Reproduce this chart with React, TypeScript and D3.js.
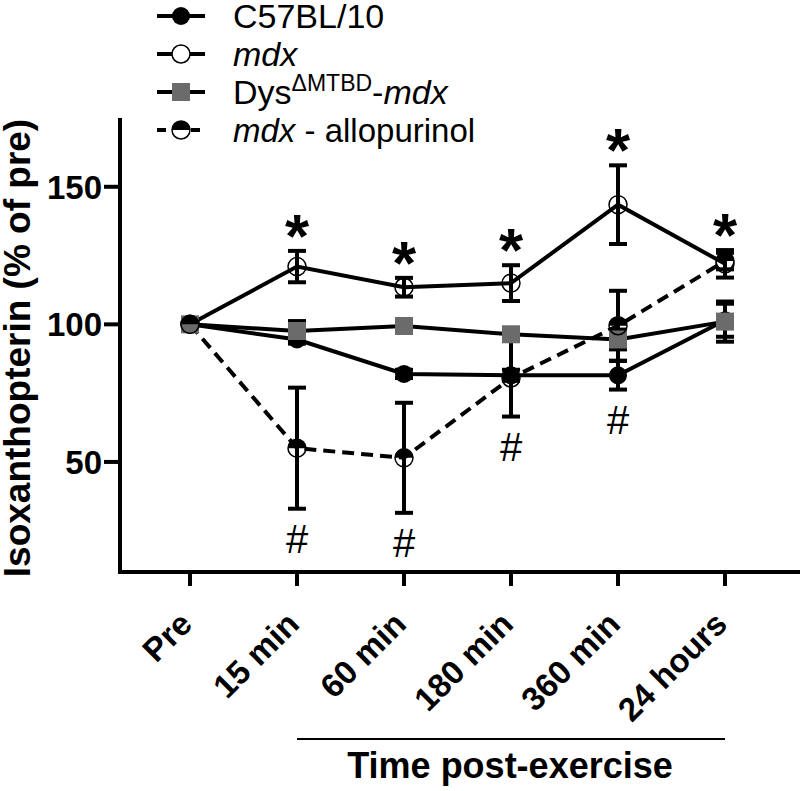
import React from "react";
import * as d3 from "d3";

const categories = ["Pre", "15 min", "60 min", "180 min", "360 min", "24 hours"];
const c57Values = [100, 94.5, 82, 81.5, 81.5, 101.5];
const c57Errors = [0, 1.5, 1.5, 2, 5.2, 6];
const mdxValues = [100, 121, 113.5, 115, 143.5, 122];
const mdxErrors = [0, 5.7, 3.4, 6.5, 14.3, 5];
const dysValues = [100, 97.6, 99.4, 96.4, 94.5, 101];
const dysErrors = [0, 3.6, 1, 2, 3.6, 7.3];
const alloValues = [100, 55, 51.5, 80.5, 99.5, 123];
const alloErrors = [0, 22, 20, 14, 12.7, 3];
const starIdx = [1, 2, 3, 4, 5];
const hashIdx = [1, 2, 3, 4];
const yTicks = [50, 100, 150];

const FONT = "'Liberation Sans', Arial, Helvetica, sans-serif";

type Series = { key: string; values: number[]; errors: number[]; dashed: boolean; marker: string };
const series: Series[] = [
  { key: "c57", values: c57Values, errors: c57Errors, dashed: false, marker: "filled" },
  { key: "mdx", values: mdxValues, errors: mdxErrors, dashed: false, marker: "open" },
  { key: "dys", values: dysValues, errors: dysErrors, dashed: false, marker: "square" },
  { key: "allo", values: alloValues, errors: alloErrors, dashed: true, marker: "half" },
];

const GRAY = "#6b6b6b";

function Marker({ type, cx, cy, legend }: { type: string; cx: number; cy: number; legend?: boolean }) {
  const r = 9;
  if (type === "filled") return <circle cx={cx} cy={cy} r={r} fill="#000" />;
  if (type === "open") return <circle cx={cx} cy={cy} r={r} fill={legend ? "#fff" : "none"} stroke="#000" strokeWidth={1.5} />;
  if (type === "square") return <rect x={cx - 9} y={cy - 9} width={18} height={18} fill={GRAY} />;
  const arc = d3.arc();
  const top = arc({ innerRadius: 0, outerRadius: r, startAngle: -Math.PI / 2, endAngle: Math.PI / 2 } as any) as string;
  return (
    <g>
      <circle cx={cx} cy={cy} r={r} fill={legend ? "#fff" : "none"} stroke="#000" strokeWidth={1.5} />
      <path d={top} transform={`translate(${cx},${cy})`} fill="#000" />
    </g>
  );
}

export default function App() {
  const x = d3.scalePoint<string>().domain(categories).range([190, 725]);
  const y = d3.scaleLinear().domain([10, 175]).range([572, 118]);
  const line = d3.line<number>().x((_, i) => x(categories[i]) as number).y((d) => y(d));

  const legendRows = [16, 54, 92, 130];

  return (
    <svg width={800} height={791} style={{ position: "absolute", left: 0, top: 0, background: "#fff" }} fontFamily={FONT}>
      {/* axes */}
      <line x1={120} x2={120} y1={118} y2={574} stroke="#000" strokeWidth={4} />
      <line x1={118} x2={800} y1={572} y2={572} stroke="#000" strokeWidth={4} />
      {yTicks.map((t) => (
        <g key={t}>
          <line x1={104} x2={120} y1={y(t)} y2={y(t)} stroke="#000" strokeWidth={4} />
          <text x={102} y={y(t) + 12} textAnchor="end" fontSize={33} fontWeight="bold">{t}</text>
        </g>
      ))}
      {categories.map((c) => (
        <g key={c}>
          <line x1={x(c)} x2={x(c)} y1={572} y2={586} stroke="#000" strokeWidth={4} />
          <text transform={`translate(${(x(c) as number) + 4},626) rotate(-45)`} textAnchor="end" fontSize={33} fontWeight="bold">{c}</text>
        </g>
      ))}
      <text transform="translate(30,348) rotate(-90)" textAnchor="middle" fontSize={37} fontWeight="bold">Isoxanthopterin (% of pre)</text>
      <line x1={x(categories[1])} x2={x(categories[5])} y1={739} y2={739} stroke="#000" strokeWidth={2} />
      <text x={510} y={778} textAnchor="middle" fontSize={36} fontWeight="bold">Time post-exercise</text>

      {/* lines */}
      {series.map((s) => (
        <path key={s.key} d={line(s.values) as string} fill="none" stroke="#000" strokeWidth={4} strokeDasharray={s.dashed ? "12,7" : undefined} />
      ))}
      {/* error bars */}
      {series.map((s) =>
        s.values.map((v, i) => {
          const e = s.errors[i];
          if (!e) return null;
          const cx = x(categories[i]) as number;
          return (
            <g key={s.key + i} stroke="#000" strokeWidth={4}>
              <line x1={cx} x2={cx} y1={y(v + e)} y2={y(v - e)} />
              <line x1={cx - 9} x2={cx + 9} y1={y(v + e)} y2={y(v + e)} />
              <line x1={cx - 9} x2={cx + 9} y1={y(v - e)} y2={y(v - e)} />
            </g>
          );
        })
      )}
      {/* markers */}
      {series.map((s) =>
        s.values.map((v, i) => <Marker key={s.key + "m" + i} type={s.marker} cx={x(categories[i]) as number} cy={y(v)} />)
      )}
      {/* annotations */}
      {starIdx.map((i) => (
        <text key={"s" + i} x={x(categories[i])} y={y(mdxValues[i] + mdxErrors[i]) - 22 + 28} textAnchor="middle" fontSize={62} fontWeight="bold">*</text>
      ))}
      {hashIdx.map((i) => {
        const low = Math.min(...series.map((s) => s.values[i] - s.errors[i]));
        return (
          <text key={"h" + i} x={x(categories[i])} y={y(low) + 30 + 14} textAnchor="middle" fontSize={40}>#</text>
        );
      })}

      {/* legend */}
      {series.map((s, k) => (
        <g key={"l" + s.key}>
          <line x1={157} x2={205} y1={legendRows[k]} y2={legendRows[k]} stroke="#000" strokeWidth={4} strokeDasharray={s.dashed ? "9,8" : undefined} />
          <Marker type={s.marker} cx={181} cy={legendRows[k]} legend />
        </g>
      ))}
      <text x={233} y={legendRows[0] + 12} fontSize={34}>C57BL/10</text>
      <text x={233} y={legendRows[1] + 12} fontSize={34} fontStyle="italic">mdx</text>
      <text x={233} y={legendRows[2] + 12} fontSize={34}>
        Dys<tspan dy={-13} fontSize={23}>ΔMTBD</tspan>
        <tspan dy={13}>-</tspan>
        <tspan fontStyle="italic">mdx</tspan>
      </text>
      <text x={233} y={legendRows[3] + 12} fontSize={33}>
        <tspan fontStyle="italic">mdx</tspan> - allopurinol
      </text>
    </svg>
  );
}
